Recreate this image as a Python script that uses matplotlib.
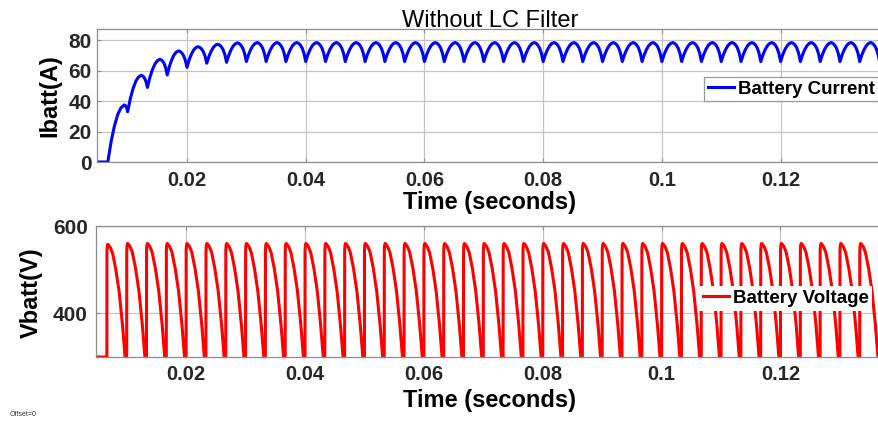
import numpy as np
import matplotlib
matplotlib.use("Agg")
from matplotlib import pyplot as plt

plt.rcParams['font.family'] = ['Liberation Sans', 'DejaVu Sans']

# rectifier pulses (one every 1/300 s), first one at ~0.00667 s
pulse_t = np.arange(2, 42) / 300.0
t_start = 0.004

# battery current: value at each pulse (cusp), peak of each cycle, where the peak sits in the cycle
cur_trough = [0, 33, 49, 57.2, 62.2, 64.9, 65.5, 66] + [66] * 32
cur_peak = [37.5, 57, 67.5, 73, 75.8, 77.4, 78.3] + [78.5] * 33
cur_peak_phase = [0.83, 0.68, 0.63, 0.57] + [0.55] * 36
# shape of the rising and falling parts of one current arch (0..1)
rise_u = [0, 0.2, 0.4, 0.6, 0.8, 1.0]
rise_f = [0, 0.36, 0.63, 0.83, 0.95, 1.0]
fall_v = [0, 0.2, 0.4, 0.6, 0.8, 1.0]
fall_f = [1.0, 0.96, 0.87, 0.71, 0.44, 0.0]

# battery voltage: peak of every pulse and the shape of one pulse
volt_base = 300
volt_peak = [558] + [560] * 39
volt_phase = [0, 0.004, 0.02, 0.045, 0.08, 0.18, 0.29, 0.45, 0.62, 0.79, 0.92, 0.97]
volt_frac = [-0.15, 0.94, 0.985, 1.0, 0.995, 0.97, 0.92, 0.78, 0.58, 0.285, 0.0, -0.15]

period = pulse_t[1] - pulse_t[0]

# build current trace
ti = [t_start]
ci = [0.0]
for k, t0 in enumerate(pulse_t):
    a = cur_trough[k]
    b = cur_trough[k + 1] if k + 1 < len(cur_trough) else cur_trough[-1]
    p = cur_peak[k]
    ph = cur_peak_phase[k]
    for u, f in zip(rise_u, rise_f):
        ti.append(t0 + u * ph * period)
        ci.append(a + (p - a) * f)
    for v, f in zip(fall_v[1:], fall_f[1:]):
        ti.append(t0 + (ph + v * (1 - ph)) * period)
        ci.append(b + (p - b) * f)

# build voltage trace
tv = [t_start, pulse_t[0]]
vv = [volt_base, volt_base]
for k, t0 in enumerate(pulse_t):
    for ph, f in zip(volt_phase, volt_frac):
        tv.append(t0 + ph * period)
        vv.append(volt_base + (volt_peak[k] - volt_base) * f)

W, H = 879, 425
fig = plt.figure(figsize=(W / 100, H / 100), dpi=100)
ax1 = fig.add_axes([97 / W, 1 - 162 / H, 786 / W, 133 / H])
ax2 = fig.add_axes([96 / W, 1 - 357 / H, 787 / W, 131 / H])

xlim = (0.00484, 0.13725)
xticks = [0.02, 0.04, 0.06, 0.08, 0.1, 0.12]
xticklabels = ['0.02', '0.04', '0.06', '0.08', '0.1', '0.12']

ax1.plot(ti, ci, color=(0, 0, 1), lw=2.2, label='Battery Current')
ax2.plot(tv, vv, color=(1, 0, 0), lw=2.2, label='Battery Voltage')

ax1.set_ylim(0, 87.4)
ax1.set_yticks([0, 20, 40, 60, 80])
ax2.set_ylim(300, 600)
ax2.set_yticks([400, 600])

for ax, ypad, xpad in ((ax1, 4, 6.5), (ax2, 6, 6)):
    ax.set_xlim(*xlim)
    ax.set_xticks(xticks)
    ax.set_xticklabels(xticklabels)
    ax.grid(True, color='#c4c4c4', lw=0.9)
    ax.set_axisbelow(True)
    for s in ax.spines.values():
        s.set_color('#8c8c8c')
        s.set_linewidth(0.9)
    ax.tick_params(axis='x', direction='in', length=3, color='#8c8c8c',
                   labelsize=14.5, labelcolor='#262626', pad=xpad, top=True)
    ax.tick_params(axis='y', direction='in', length=3, color='#8c8c8c',
                   labelsize=15, labelcolor='#262626', pad=ypad, right=True)
    for lab in ax.get_xticklabels() + ax.get_yticklabels():
        lab.set_fontweight('bold')
    ax.set_xlabel('Time (seconds)', fontsize=17, fontweight='bold')

ax1.set_ylabel('Ibatt(A)', fontsize=17, fontweight='bold')
ax2.set_ylabel('Vbatt(V)', fontsize=17, fontweight='bold')
ax1.yaxis.set_label_coords(-0.0449, 0.5)
ax2.yaxis.set_label_coords(-0.067, 0.49)
ax1.xaxis.set_label_coords(0.5, -0.215)
ax2.xaxis.set_label_coords(0.5, -0.245)

ax1.set_title('Without LC Filter', fontsize=17, pad=1.5)

leg1 = ax1.legend(loc='center left', bbox_to_anchor=(0.772, 0.549), borderaxespad=0,
                  prop={'size': 13.5, 'weight': 'bold'}, handlelength=1.4,
                  handletextpad=0.2, borderpad=0.2, fancybox=False, framealpha=1)
leg1.get_frame().set_edgecolor('#9a9a9a')
leg1.get_frame().set_linewidth(0.9)

leg2 = ax2.legend(loc='center left', bbox_to_anchor=(0.766, 0.447), borderaxespad=0,
                  prop={'size': 13.5, 'weight': 'bold'}, handlelength=1.4,
                  handletextpad=0.2, borderpad=0.2, fancybox=False, framealpha=1)
leg2.get_frame().set_edgecolor('none')

fig.text(0.011, 0.022, 'Offset=0', fontsize=5, color='#333333')

fig.savefig('out.png', dpi=100)
